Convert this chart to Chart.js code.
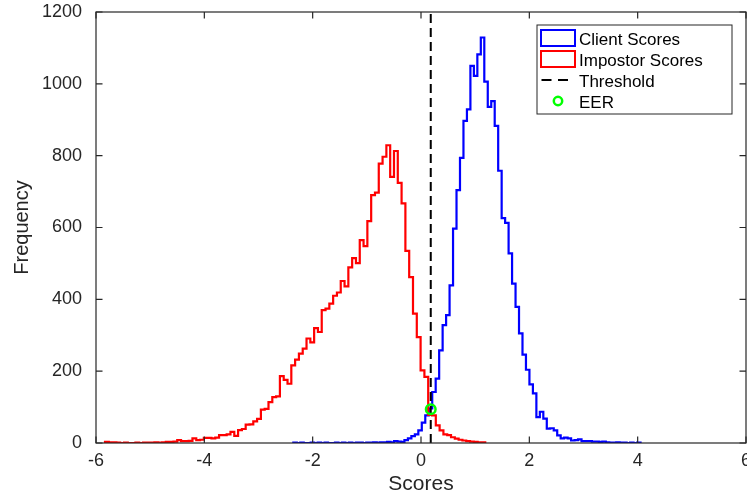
<!DOCTYPE html>
<html><head><meta charset="utf-8">
<script src="https://cdn.jsdelivr.net/npm/chart.js@4.4.0/dist/chart.umd.min.js"></script>
<style>html,body{margin:0;padding:0;background:#fff;overflow:hidden}#wrap{width:760px;height:501px;position:relative}</style>
</head><body><div id="wrap"><canvas id="c"></canvas></div>
<script>
// ---- data ----
const seriesNames = ['Client Scores', 'Impostor Scores', 'Threshold', 'EER'];
// Client score histogram: 100 bins
const clientBinStart = -2.357;
const clientBinWidth = 0.0641;
const clientCounts = [1,0,1,0,0,1,0,1,0,1, 0,0,1,0,1,0,1,0,1,1, 0,1,1,2,1,2,2,3,2,5,
  4,3,8,13,19,24,35,57,77,96, 142,179,258,328,356,439,597,704,794,897,
  929,1050,1022,1082,1129,1006,936,952,883,758, 626,613,528,444,379,305,246,204,163,138,
  72,87,68,40,41,35,21,13,15,13, 7,8,10,5,5,5,4,4,3,4, 2,1,1,2,1,1,0,1,0,1];
// Impostor score histogram: 100 bins
const impostorBinStart = -5.834;
const impostorBinWidth = 0.0702;
const impostorCounts = [3,2,2,1,0,1,0,0,1,0, 1,1,1,2,1,2,3,3,4,8, 5,5,6,13,8,9,14,14,13,15,
  22,22,24,31,20,36,39,51,52,60, 67,93,95,114,128,130,186,176,165,216,
  232,249,263,291,280,320,309,370,374,388, 410,419,451,436,489,515,501,565,548,618,
  690,697,778,797,829,741,813,724,667,535, 462,360,295,202,184,78,77,49,35,24,
  22,16,12,9,7,5,4,3,2,2];
const thresholdX = 0.18;
const eerPoint = {x: 0.18, y: 94};
const xRange = [-6, 6];
const yRange = [0, 1200];
const xTickStep = 2;
const yTickStep = 200;

// ---- build stair outlines ----
function stairs(start, width, counts) {
  const pts = [{x: start, y: 0}];
  counts.forEach((c, i) => pts.push({x: start + i * width, y: c}));
  pts.push({x: start + counts.length * width, y: 0});
  return pts;
}

const FONT = "'Liberation Sans', Arial, Helvetica, sans-serif";
const AXIS_COLOR = '#262626';
Chart.defaults.font.family = FONT;

const bgPlugin = {
  id: 'bg',
  beforeDraw(chart) {
    const ctx = chart.ctx;
    ctx.save(); ctx.fillStyle = '#fff'; ctx.fillRect(0, 0, chart.width, chart.height); ctx.restore();
  }
};

const framePlugin = {
  id: 'frame',
  afterDatasetsDraw(chart) {
    const {ctx, chartArea: a, scales} = chart;
    const tl = 6.5;
    ctx.save();
    ctx.strokeStyle = AXIS_COLOR;
    ctx.lineWidth = 1.2;
    ctx.strokeRect(a.left, a.top, a.right - a.left, a.bottom - a.top);
    ctx.beginPath();
    scales.x.ticks.forEach(t => {
      const px = scales.x.getPixelForValue(t.value);
      ctx.moveTo(px, a.bottom); ctx.lineTo(px, a.bottom - tl);
      ctx.moveTo(px, a.top); ctx.lineTo(px, a.top + tl);
    });
    scales.y.ticks.forEach(t => {
      const py = scales.y.getPixelForValue(t.value);
      ctx.moveTo(a.left, py); ctx.lineTo(a.left + tl, py);
      ctx.moveTo(a.right, py); ctx.lineTo(a.right - tl, py);
    });
    ctx.stroke();
    ctx.restore();
  }
};

const legendPlugin = {
  id: 'matlabLegend',
  afterDraw(chart) {
    const ctx = chart.ctx;
    const ds = chart.data.datasets;
    const bx = 537, by = 25, bw = 195, bh = 89;
    ctx.save();
    ctx.fillStyle = '#fff';
    ctx.fillRect(bx, by, bw, bh);
    ctx.strokeStyle = AXIS_COLOR; ctx.lineWidth = 1;
    ctx.strokeRect(bx, by, bw, bh);
    ctx.font = '17px ' + FONT;
    ctx.fillStyle = '#000';
    ctx.textBaseline = 'alphabetic';
    ctx.textAlign = 'left';
    const textX = 579;
    ctx.lineWidth = 2;
    ctx.strokeStyle = ds[0].borderColor;
    ctx.strokeRect(541, 30, 34, 16);
    ctx.fillText(ds[0].label, textX, 45);
    ctx.strokeStyle = ds[1].borderColor;
    ctx.strokeRect(541, 51, 34, 16);
    ctx.fillText(ds[1].label, textX, 66);
    ctx.strokeStyle = ds[2].borderColor;
    ctx.setLineDash([10, 6.5]);
    ctx.beginPath(); ctx.moveTo(541.5, 80); ctx.lineTo(568.5, 80); ctx.stroke();
    ctx.setLineDash([]);
    ctx.fillText(ds[2].label, textX, 86.5);
    ctx.strokeStyle = ds[3].borderColor;
    ctx.lineWidth = 2.5;
    ctx.beginPath(); ctx.arc(558, 101, 4.2, 0, Math.PI * 2); ctx.stroke();
    ctx.fillText(ds[3].label, textX, 107.5);
    ctx.restore();
  }
};

new Chart(document.getElementById('c'), {
  type: 'line',
  data: {
    datasets: [
      {label: seriesNames[0], data: stairs(clientBinStart, clientBinWidth, clientCounts),
        borderColor: '#0000ff', borderWidth: 2.2, stepped: true, pointRadius: 0, fill: false, order: 3},
      {label: seriesNames[1], data: stairs(impostorBinStart, impostorBinWidth, impostorCounts),
        borderColor: '#ff0000', borderWidth: 2.2, stepped: true, pointRadius: 0, fill: false, order: 2},
      {label: seriesNames[2], data: [{x: thresholdX, y: yRange[0]}, {x: thresholdX, y: yRange[1]}],
        borderColor: '#000000', borderWidth: 2, borderDash: [9, 5], pointRadius: 0, fill: false, order: 1},
      {label: seriesNames[3], data: [eerPoint], showLine: false,
        borderColor: '#00ff00', backgroundColor: 'rgba(0,0,0,0)', borderWidth: 2.5,
        pointRadius: 4.8, pointStyle: 'circle', order: 0}
    ]
  },
  options: {
    responsive: true,
    maintainAspectRatio: false,
    devicePixelRatio: 1,
    animation: false,
    events: [],
    layout: {padding: {top: 12, right: 14, left: 0, bottom: 0}},
    plugins: {legend: {display: false}, tooltip: {enabled: false}},
    scales: {
      x: {
        type: 'linear', min: xRange[0], max: xRange[1],
        grid: {display: false, drawTicks: false}, border: {display: false},
        ticks: {stepSize: xTickStep, color: AXIS_COLOR, font: {size: 18}, padding: 7, maxRotation: 0, autoSkip: false,
          callback: v => String(v)},
        title: {display: true, text: 'Scores', color: AXIS_COLOR, font: {size: 21}, padding: {top: 0, bottom: 4}},
        afterFit(s) { s.height = 58; s.paddingLeft = 0; s.paddingRight = 0; }
      },
      y: {
        type: 'linear', min: yRange[0], max: yRange[1],
        grid: {display: false, drawTicks: false}, border: {display: false},
        ticks: {stepSize: yTickStep, color: AXIS_COLOR, font: {size: 18}, padding: 14,
          callback: v => String(v)},
        title: {display: true, text: 'Frequency', color: AXIS_COLOR, font: {size: 20}, padding: {top: 10, bottom: 0}},
        afterFit(s) { s.width = 96; s.paddingTop = 0; s.paddingBottom = 0; }
      }
    }
  },
  plugins: [bgPlugin, framePlugin, legendPlugin]
});
</script></body></html>
